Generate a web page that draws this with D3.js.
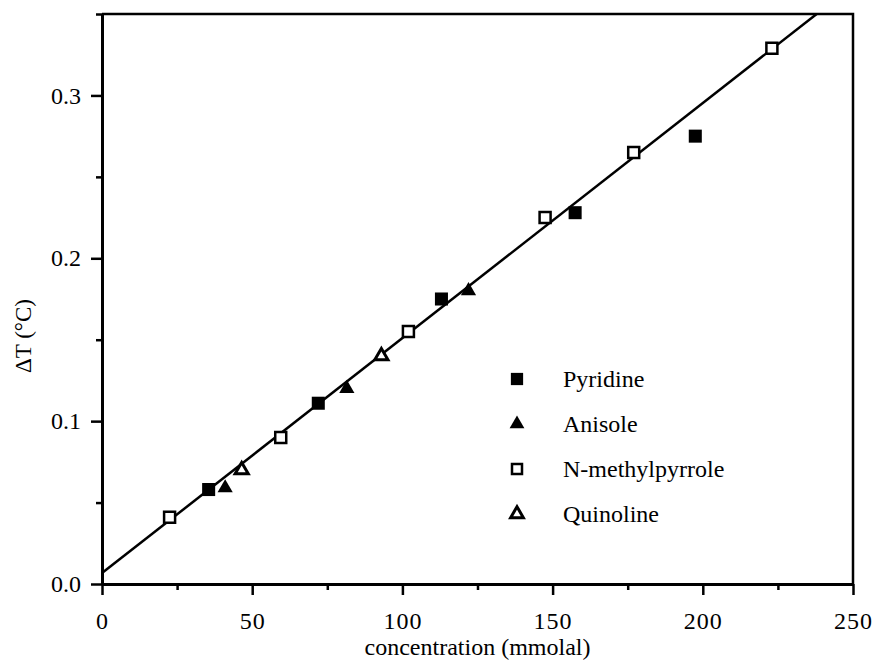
<!DOCTYPE html>
<html>
<head>
<meta charset="utf-8">
<script src="https://cdn.jsdelivr.net/npm/d3@7"></script>
<style>
  body { margin: 0; background: #fff; }
  text { font-family: "Liberation Serif", "Times New Roman", serif; fill: #000; }
</style>
</head>
<body>
<div id="chart"></div>
<script>
// data
var pyridineX = [35.5, 72, 113, 157.5, 197.5];
var pyridineY = [0.058, 0.111, 0.175, 0.228, 0.275];
var anisoleX = [41, 81.5, 122];
var anisoleY = [0.059, 0.120, 0.180];
var nmpX = [22.5, 59.5, 102, 147.5, 177, 223];
var nmpY = [0.041, 0.090, 0.155, 0.225, 0.265, 0.329];
var quinolineX = [46.5, 93];
var quinolineY = [0.070, 0.140];

// straight line fit
var fitSlope = 0.001443;
var fitIntercept = 0.0067;

var xTicks = [0, 50, 100, 150, 200, 250];
var xMinor = [25, 75, 125, 175, 225];
var yTicks = [0, 0.1, 0.2, 0.3];
var yMinor = [0.05, 0.15, 0.25, 0.35];

var legendNames = ["Pyridine", "Anisole", "N-methylpyrrole", "Quinoline"];

var width = 876, height = 666;
var plotLeft = 102, plotRight = 853, plotTop = 14, plotBottom = 584;

var svg = d3.select("#chart").append("svg")
    .attr("width", width)
    .attr("height", height);

var x = d3.scaleLinear().domain([0, 250]).range([plotLeft, plotRight]);
var y = d3.scaleLinear().domain([0, 0.35]).range([plotBottom, plotTop]);

//box (top and right)
svg.append("path")
    .attr("d", "M" + plotLeft + "," + plotTop + "H" + plotRight + "V" + plotBottom)
    .attr("fill", "none")
    .attr("stroke", "#000")
    .attr("stroke-width", 2.5);

//minor ticks
svg.append("g")
    .attr("transform", "translate(0," + plotBottom + ")")
    .call(d3.axisBottom(x).tickValues(xMinor).tickSize(6).tickFormat(""))
    .call(function(g) { g.select(".domain").remove(); });
svg.append("g")
    .attr("transform", "translate(" + plotLeft + ",0)")
    .call(d3.axisLeft(y).tickValues(yMinor).tickSize(6).tickFormat(""))
    .call(function(g) { g.select(".domain").remove(); });

//major ticks with labels
var xAxis = svg.append("g")
    .attr("transform", "translate(0," + plotBottom + ")")
    .call(d3.axisBottom(x).tickValues(xTicks).tickSize(11).tickSizeOuter(0).tickPadding(17).tickFormat(d3.format("d")));
var yAxis = svg.append("g")
    .attr("transform", "translate(" + plotLeft + ",0)")
    .call(d3.axisLeft(y).tickValues(yTicks).tickSize(11).tickSizeOuter(0).tickPadding(10).tickFormat(d3.format(".1f")));

svg.selectAll(".tick line").attr("stroke-width", 2.5);
svg.selectAll(".domain").attr("stroke-width", 3);
svg.selectAll(".tick text")
    .attr("font-size", "24px")
    .attr("font-family", "Liberation Serif");
xAxis.selectAll(".tick text").attr("letter-spacing", "1px");

//axis titles
svg.append("text")
    .attr("x", (plotLeft + plotRight) / 2)
    .attr("y", 655)
    .attr("text-anchor", "middle")
    .attr("font-size", "24px")
    .text("concentration (mmolal)");

svg.append("text")
    .attr("transform", "translate(31,336) rotate(-90)")
    .attr("text-anchor", "middle")
    .attr("font-size", "23px")
    .text("ΔT (°C)");

//fit line, clipped at the top of the plot
var xEnd = Math.min(250, (0.35 - fitIntercept) / fitSlope);
var lineData = [[0, fitIntercept], [xEnd, fitIntercept + fitSlope * xEnd]];
svg.append("path")
    .datum(lineData)
    .attr("d", d3.line().x(function(d) { return x(d[0]); }).y(function(d) { return y(d[1]); }))
    .attr("fill", "none")
    .attr("stroke", "#000")
    .attr("stroke-width", 2.5);

//marker styles
var styles = [
  { type: d3.symbolSquare, size: 170, fill: "#000", stroke: "none", sw: 0 },
  { type: d3.symbolTriangle, size: 100, fill: "#000", stroke: "none", sw: 0 },
  { type: d3.symbolSquare, size: 121, fill: "#fff", stroke: "#000", sw: 2.5 },
  { type: d3.symbolTriangle, size: 75, fill: "#fff", stroke: "#000", sw: 3 }
];

var series = [
  { xs: pyridineX, ys: pyridineY },
  { xs: anisoleX, ys: anisoleY },
  { xs: nmpX, ys: nmpY },
  { xs: quinolineX, ys: quinolineY }
];

series.forEach(function(s, i) {
  var st = styles[i];
  var pts = s.xs.map(function(v, j) { return [v, s.ys[j]]; });
  svg.append("g").selectAll("path")
      .data(pts)
      .enter().append("path")
      .attr("transform", function(d) { return "translate(" + x(d[0]) + "," + y(d[1]) + ")"; })
      .attr("d", d3.symbol().type(st.type).size(st.size))
      .attr("fill", st.fill)
      .attr("stroke", st.stroke)
      .attr("stroke-width", st.sw)
      .attr("stroke-linejoin", "miter");
});

//legend
var legend = svg.append("g").attr("transform", "translate(517,379)");
var rows = legend.selectAll("g")
    .data(legendNames)
    .enter().append("g")
    .attr("transform", function(d, i) { return "translate(0," + (i * 45) + ")"; });

rows.append("path")
    .attr("d", function(d, i) {
      var sizes = [150, 95, 100, 70];
      return d3.symbol().type(styles[i].type).size(sizes[i])();
    })
    .attr("fill", function(d, i) { return styles[i].fill; })
    .attr("stroke", function(d, i) { return styles[i].stroke; })
    .attr("stroke-width", function(d, i) { return styles[i].sw; });

rows.append("text")
    .attr("x", 46)
    .attr("y", 8)
    .attr("font-size", "24px")
    .text(function(d) { return d; });
</script>
</body>
</html>
